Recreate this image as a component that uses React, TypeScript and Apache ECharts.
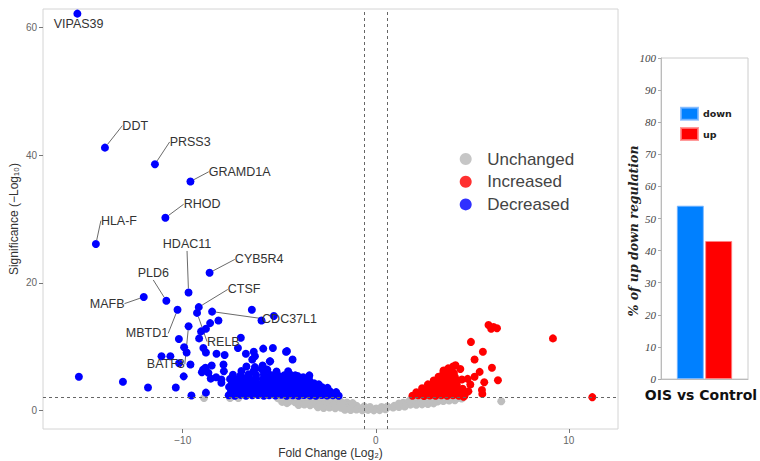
import React, { useEffect, useRef } from 'react';
import * as echarts from 'echarts';

// ---------- Volcano plot data ----------
const labelGenes = ['VIPAS39', 'DDT', 'PRSS3', 'GRAMD1A', 'RHOD', 'HLA-F', 'HDAC11', 'CYB5R4', 'PLD6', 'MAFB', 'CTSF', 'MBTD1', 'CDC37L1', 'RELB', 'BATF3'];
const labelFC = [-15.46, -14.03, -11.44, -9.6, -10.9, -14.5, -9.7, -8.61, -10.85, -12.02, -9.17, -10.27, -8.48, -9.26, -9.7];
const labelSig = [62.2, 41.2, 38.6, 35.9, 30.2, 26.1, 18.5, 21.6, 17.2, 17.8, 16.2, 15.8, 15.5, 15.3, 13.2];

const decreasedPoints: number[][] = [
  [-15.38, 5.3], [-13.1, 4.5], [-11.8, 3.6], [-10.36, 3.6], [-9.55, 2.35], [-8.8, 2.8], [-9.95, 5.35],
  [-10.19, 7.4], [-11.1, 8.5], [-10.64, 8.5], [-9.6, 7.2], [-9.93, 9.9], [-9.8, 9.1], [-10.2, 11.2],
  [-9.15, 11.3], [-9.05, 12.4], [-8.8, 12.8], [-8.58, 13.7], [-8.15, 14.1], [-6.42, 15.8], [-5.28, 14.8],
  [-5.92, 14.1], [-8.93, 9.8], [-8.8, 9.1], [-8.25, 8.9], [-7.83, 8.7], [-6.99, 11.4], [-7.14, 9.8],
  [-6.73, 8.9], [-6.32, 9.2], [-6.26, 8.5], [-6.4, 8.0], [-5.83, 9.7], [-5.33, 9.8], [-4.6, 9.3],
  [-4.31, 8.0], [-5.47, 7.7], [-5.86, 7.05], [-5.62, 6.4], [-6.7, 6.9], [-6.26, 6.8], [-6.35, 6.05],
  [-8.5, 7.05], [-7.89, 7.2], [-8.95, 6.4], [-9.01, 6.0], [-8.82, 6.7], [-8.67, 5.9], [-8.55, 5.0],
  [-8.27, 5.2], [-8.0, 4.85], [-8.0, 4.35], [-7.87, 6.15], [-6.45, 2.77], [-5.17, 5.8], [-4.17, 5.5],
  [-3.76, 5.2], [-3.44, 5.5], [-5.49, 7.7], [-4.65, 9.2],
  [-7.62, 2.4], [-7.3, 2.32], [-7.0, 2.45], [-6.72, 2.3], [-6.4, 2.38], [-6.1, 2.44], [-5.8, 2.3], [-5.52, 2.4],
  [-5.2, 2.34], [-4.9, 2.46], [-4.62, 2.32], [-4.3, 2.4], [-4.0, 2.3], [-3.72, 2.44], [-3.4, 2.36], [-3.1, 2.3],
  [-2.8, 2.42], [-2.52, 2.34], [-2.22, 2.4], [-1.92, 2.3],
  [-7.5, 3.05], [-7.2, 2.94], [-6.88, 3.1], [-6.58, 2.98], [-6.25, 3.04], [-5.95, 2.92], [-5.65, 3.08], [-5.35, 2.96],
  [-5.05, 3.1], [-4.75, 2.98], [-4.45, 3.02], [-4.15, 2.94], [-3.85, 3.08], [-3.55, 2.96], [-3.25, 3.04], [-2.95, 2.92],
  [-2.65, 3.06], [-2.35, 2.96], [-2.05, 2.88],
  [-7.6, 3.7], [-7.3, 3.6], [-6.98, 3.72], [-6.68, 3.62], [-6.38, 3.7], [-6.08, 3.58], [-5.78, 3.68], [-5.48, 3.6],
  [-5.18, 3.74], [-4.88, 3.62], [-4.58, 3.7], [-4.28, 3.6], [-3.98, 3.68], [-3.68, 3.58], [-3.38, 3.66], [-3.08, 3.6],
  [-2.78, 3.64], [-2.5, 3.55],
  [-7.45, 4.3], [-7.1, 4.22], [-6.8, 4.36], [-6.5, 4.26], [-6.2, 4.34], [-5.9, 4.24], [-5.6, 4.38], [-5.3, 4.28],
  [-5.0, 4.34], [-4.7, 4.22], [-4.4, 4.3], [-4.1, 4.24], [-3.8, 4.32], [-3.5, 4.2], [-3.2, 4.26], [-2.95, 4.1],
  [-7.55, 4.95], [-7.2, 4.88], [-6.85, 5.0], [-6.5, 4.9], [-6.2, 5.02], [-5.85, 4.92], [-5.5, 5.04], [-5.2, 4.9],
  [-4.85, 4.98], [-4.5, 4.88], [-4.15, 4.96], [-3.8, 4.84], [-3.45, 4.78],
  [-7.4, 5.6], [-7.0, 5.52], [-6.6, 5.66], [-6.2, 5.56], [-5.8, 5.64], [-5.45, 5.54], [-5.1, 5.62], [-4.75, 5.5],
  [-4.4, 5.56], [-4.05, 5.4],
  [-6.96, 6.2], [-6.3, 6.3], [-5.92, 6.5], [-5.14, 6.1], [-4.54, 6.15],
];

const increasedPoints: number[][] = [
  [5.84, 13.4], [5.98, 12.8], [6.1, 13.1], [6.28, 12.9], [9.18, 11.3], [11.22, 2.09], [4.93, 10.75],
  [5.55, 9.2], [5.12, 8.0], [6.02, 6.7], [6.33, 4.75], [5.62, 4.43], [5.52, 2.6], [5.38, 6.05],
  [4.46, 4.85], [4.13, 7.1], [4.38, 6.5], [3.51, 6.26], [5.12, 5.28], [4.76, 4.96], [4.9, 4.07],
  [4.8, 3.0], [5.5, 3.2], [4.55, 2.15],
  [1.9, 2.3], [2.2, 2.38], [2.5, 2.28], [2.8, 2.36], [3.1, 2.3], [3.4, 2.4], [3.7, 2.32], [4.0, 2.38], [4.3, 2.3], [4.6, 2.36],
  [2.1, 2.85], [2.4, 2.95], [2.7, 2.88], [3.0, 2.96], [3.3, 2.86], [3.6, 2.94], [3.9, 2.9], [4.2, 2.98], [4.5, 2.88],
  [2.4, 3.5], [2.7, 3.44], [3.0, 3.56], [3.3, 3.46], [3.6, 3.54], [3.9, 3.44], [4.2, 3.52], [4.5, 3.42],
  [2.7, 4.1], [3.0, 4.04], [3.3, 4.14], [3.6, 4.06], [3.9, 4.12], [4.2, 4.02],
  [3.0, 4.7], [3.3, 4.64], [3.6, 4.74], [3.9, 4.66], [4.2, 4.72],
  [3.25, 5.3], [3.55, 5.24], [3.85, 5.34], [4.1, 5.26],
  [3.5, 5.9], [3.8, 5.96], [4.05, 5.86],
  [3.75, 6.6], [4.0, 6.9],
];

const unchangedPoints: number[][] = [
  [-8.9, 1.95], [-7.55, 1.95], [-7.12, 1.95], [-5.05, 1.9], [6.5, 1.45],
  [-4.9, 1.85], [-4.62, 1.92], [-4.3, 1.88], [-4.02, 1.95], [-3.7, 1.86], [-3.42, 1.93], [-3.1, 1.9], [-2.8, 1.84],
  [-2.52, 1.94], [-2.2, 1.88], [-1.92, 1.8], [1.82, 1.78], [2.1, 1.9], [2.42, 1.86], [2.7, 1.94], [3.02, 1.88],
  [3.3, 1.92], [3.62, 1.85], [3.9, 1.95], [4.2, 1.9], [4.45, 1.87],
  [-4.85, 1.35], [-4.5, 1.42], [-4.18, 1.3], [-3.9, 1.45], [-3.6, 1.38], [-3.28, 1.3], [-3.0, 1.44], [-2.7, 1.36],
  [-2.4, 1.28], [-2.1, 1.42], [-1.8, 1.34], [-1.5, 1.25], [1.42, 1.22], [1.7, 1.38], [2.0, 1.3], [2.32, 1.44],
  [2.6, 1.35], [2.9, 1.28], [3.2, 1.42], [3.5, 1.5], [3.8, 1.56], [4.1, 1.6],
  [-4.6, 1.15], [-4.0, 0.85], [-3.7, 0.95], [-3.4, 0.82], [-3.1, 0.9], [-2.8, 0.8], [-2.5, 0.92], [-2.2, 0.84],
  [-1.9, 0.78], [-1.6, 0.9], [-1.3, 0.82], [-1.0, 0.75], [0.95, 0.72], [1.22, 0.86], [1.5, 0.8], [1.8, 0.92],
  [2.1, 0.9], [2.4, 0.96], [2.7, 1.02], [3.0, 1.12],
  [-3.0, 0.5], [-2.7, 0.4], [-2.4, 0.46], [-2.1, 0.36], [-1.8, 0.42], [-1.5, 0.34], [-1.2, 0.4], [-0.9, 0.45],
  [-0.6, 0.38], [-0.3, 0.3], [0.02, 0.32], [0.3, 0.42], [0.6, 0.5], [0.9, 0.48], [1.2, 0.56], [1.5, 0.62],
  [-1.6, 0.12], [-1.3, 0.08], [-1.0, 0.15], [-0.7, 0.05], [-0.4, 0.1], [-0.1, 0.02], [0.2, 0.06], [0.5, 0.2],
  [-0.6, 0.65], [-0.3, 0.55], [0.3, 0.55], [0.6, 0.62], [-1.2, 1.15], [1.2, 1.1],
];

const xTicks = [-10, 0, 10];
const yTicks = [0, 20, 40, 60];
const fcThreshold = 0.585;
const sigThreshold = 2;

// ---------- Bar chart data ----------
const barCategories = ['OIS vs Control'];
const downPct = [54];
const upPct = [43];

// label offsets (styling / layout only)
const labelOffsets: Record<string, [number, number]> = {
  VIPAS39: [-27.7, 10],
  DDT: [13.4, -22],
  PRSS3: [10.7, -22.3],
  GRAMD1A: [14.3, -9.7],
  RHOD: [14.3, -13.6],
  'HLA-F': [1, -23.3],
  HDAC11: [-29.7, -48],
  CYB5R4: [21.3, -13.3],
  PLD6: [-32.7, -27.3],
  MAFB: [-58, 6.7],
  CTSF: [25, -17.7],
  MBTD1: [-55.7, 23.7],
  CDC37L1: [46, 7],
  RELB: [6, 28.7],
  BATF3: [-45.7, 38],
};

const sans = 'Liberation Sans, Arial, Helvetica, sans-serif';
const minusFmt = (v: number) => String(v).replace('-', '\u2212');

export default function App() {
  const ref = useRef<HTMLDivElement>(null);
  useEffect(() => {
    if (!ref.current) return;
    const chart = echarts.init(ref.current, undefined, { renderer: 'svg' });

    const labeledData = labelGenes.map((g, i) => ({
      name: g,
      value: [labelFC[i], labelSig[i]],
      label: { show: true },
      labelLine: { show: g !== 'VIPAS39' },
    }));

    const option: any = {
      animation: false,
      backgroundColor: '#ffffff',
      grid: [
        { left: 43, top: 9, right: 142, bottom: 32, show: true, borderColor: '#d4d4d4', borderWidth: 1, backgroundColor: 'transparent', outerBoundsMode: 'none', containLabel: false },
        { left: 661, top: 58, right: 12, bottom: 82, show: true, borderColor: '#cccccc', borderWidth: 1, backgroundColor: 'transparent', outerBoundsMode: 'none', containLabel: false },
      ],
      legend: [
        {
          data: [
            { name: 'Unchanged', itemStyle: { color: '#c6c6c6' } },
            { name: 'Increased', itemStyle: { color: '#ff3030' } },
            { name: 'Decreased', itemStyle: { color: '#3030ff' } },
          ],
          orient: 'vertical',
          left: 454.7,
          top: 145.5,
          icon: 'circle',
          itemWidth: 33,
          itemHeight: 12,
          itemGap: 5.7,
          selectedMode: false,
          textStyle: { fontSize: 17, lineHeight: 17, color: '#444', fontFamily: sans },
        },
        {
          data: ['down', 'up'],
          orient: 'vertical',
          left: 675,
          top: 101.7,
          icon: 'rect',
          itemWidth: 17,
          itemHeight: 12,
          itemGap: 6.3,
          selectedMode: false,
          textStyle: { fontSize: 9.5, lineHeight: 12, fontWeight: 'bold', color: '#222', fontFamily: 'DejaVu Sans' },
        },
      ],
      xAxis: [
        {
          type: 'value',
          gridIndex: 0,
          min: -17.24,
          max: 12.55,
          splitLine: { show: false },
          axisLine: { show: false, onZero: false },
          axisTick: { show: true, length: 4, lineStyle: { color: '#777' }, customValues: xTicks },
          axisLabel: { customValues: xTicks, color: '#666', fontSize: 10, margin: 6, fontFamily: sans, formatter: minusFmt },
          name: 'Fold Change (Log\u2082)',
          nameLocation: 'middle',
          nameGap: 17,
          nameMoveOverlap: false,
          nameTextStyle: { fontSize: 12, lineHeight: 13, color: '#333', fontFamily: sans },
        },
        {
          type: 'category',
          gridIndex: 1,
          data: barCategories,
          axisLine: { show: true, onZero: false, lineStyle: { color: '#bbbbbb' } },
          axisTick: { show: false },
          axisLabel: { fontWeight: 'bold', fontSize: 14, color: '#111', margin: 9, fontFamily: 'DejaVu Sans', padding: [0, 7, 0, 0] },
        },
      ],
      yAxis: [
        {
          type: 'value',
          gridIndex: 0,
          min: -2.9,
          max: 62.93,
          splitLine: { show: false },
          axisLine: { show: false, onZero: false },
          axisTick: { show: true, length: 4, lineStyle: { color: '#777' }, customValues: yTicks },
          axisLabel: { customValues: yTicks, color: '#666', fontSize: 10, margin: 6, fontFamily: sans },
          name: 'Significance (\u2212Log\u2081\u2080)',
          nameLocation: 'middle',
          nameGap: 23,
          nameMoveOverlap: false,
          nameTextStyle: { fontSize: 12, color: '#333', fontFamily: sans },
        },
        {
          type: 'value',
          gridIndex: 1,
          min: 0,
          max: 100,
          interval: 10,
          splitLine: { show: false },
          axisLine: { show: true, onZero: false, lineStyle: { color: '#bbbbbb' } },
          axisTick: { show: true, length: 3, lineStyle: { color: '#aaaaaa' } },
          axisLabel: { color: '#444', fontSize: 11, fontStyle: 'italic', fontFamily: 'Liberation Serif, serif', margin: 5 },
          name: '% of up down regulation',
          nameLocation: 'middle',
          nameGap: 21,
          nameMoveOverlap: false,
          nameTextStyle: { fontSize: 12.5, fontWeight: 'bold', fontStyle: 'italic', color: '#222', fontFamily: 'DejaVu Serif, serif', padding: [0, 25, 0, 0] },
        },
      ],
      series: [
        {
          name: 'Unchanged',
          type: 'scatter',
          xAxisIndex: 0,
          yAxisIndex: 0,
          symbolSize: 8,
          itemStyle: { color: '#bebebe', opacity: 1 },
          data: unchangedPoints,
          z: 2,
        },
        {
          name: 'Increased',
          type: 'scatter',
          xAxisIndex: 0,
          yAxisIndex: 0,
          symbolSize: 8,
          itemStyle: { color: '#ff0000', opacity: 1 },
          data: increasedPoints,
          z: 3,
        },
        {
          name: 'Decreased',
          type: 'scatter',
          xAxisIndex: 0,
          yAxisIndex: 0,
          symbolSize: 8,
          itemStyle: { color: '#0000ff', opacity: 1 },
          data: [...decreasedPoints, ...labeledData],
          z: 4,
          label: {
            show: false,
            position: 'right',
            distance: 0,
            formatter: '{b}',
            fontSize: 12.5,
            color: '#333',
            fontFamily: sans,
          },
          labelLine: { show: true, lineStyle: { color: '#444', width: 0.8 } },
          labelLayout: (p: any) => {
            const o = labelOffsets[p.text];
            return o ? { dx: o[0], dy: o[1] } : {};
          },
        },
        {
          name: 'thresholds',
          type: 'scatter',
          xAxisIndex: 0,
          yAxisIndex: 0,
          data: [],
          z: 10,
          silent: true,
          markLine: {
            silent: true,
            symbol: 'none',
            label: { show: false },
            lineStyle: { type: [3, 3], color: '#666', width: 1 },
            data: [{ xAxis: -fcThreshold }, { xAxis: fcThreshold }, { yAxis: sigThreshold }],
          },
        },
        {
          name: 'down',
          type: 'bar',
          xAxisIndex: 1,
          yAxisIndex: 1,
          data: downPct,
          barWidth: 27,
          barGap: '5%',
          itemStyle: { color: '#0080ff', borderColor: 'rgba(120,180,255,0.8)', borderWidth: 1 },
        },
        {
          name: 'up',
          type: 'bar',
          xAxisIndex: 1,
          yAxisIndex: 1,
          data: upPct,
          barWidth: 27,
          barGap: '5%',
          itemStyle: { color: '#ff0000', borderColor: 'rgba(255,130,130,0.8)', borderWidth: 1 },
        },
      ],
    };
    chart.setOption(option);
    return () => chart.dispose();
  }, []);

  return <div ref={ref} style={{ position: 'fixed', left: 0, top: 0, width: 760, height: 461, background: '#fff' }} />;
}
